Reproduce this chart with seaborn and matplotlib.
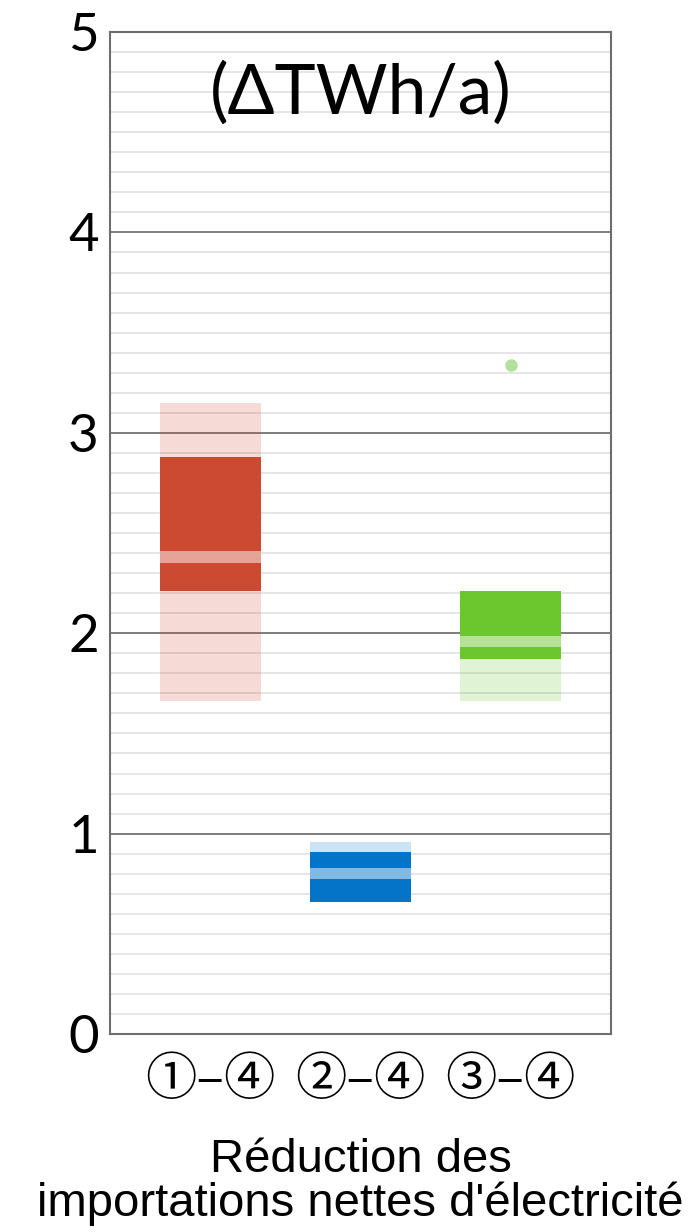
import numpy as np
import pandas as pd
import matplotlib
matplotlib.use("Agg")
import matplotlib.pyplot as plt
import seaborn as sns

# values (TWh/a)
categories = ['①–④', '②–④', '③–④']
range_low = [1.66, 0.66, 1.66]
range_high = [3.15, 0.96, 2.21]
iqr_low = [2.21, 0.66, 1.87]
iqr_high = [2.88, 0.91, 2.21]
medians = [2.38, 0.80, 1.96]
outlier_cat = ['③–④']
outlier_val = [3.34]
colors = ['#CD4A32', '#0474C8', '#6CC62E']

sns.set_theme(style="white")
plt.rcParams['font.family'] = ['Liberation Sans', 'DejaVu Sans']
plt.rcParams['text.color'] = 'black'
plt.rcParams['xtick.color'] = 'black'
plt.rcParams['ytick.color'] = 'black'
plt.rcParams['axes.labelcolor'] = 'black'

fig = plt.figure(figsize=(6.92, 12.32), dpi=100)
ax = fig.add_axes([0.159, 0.1607, 0.724, 0.8133])

bar_w = 0.67
half = 0.028  # half thickness of the median stripe

for i, cat in enumerate(categories):
    c = colors[i]
    # full range, pale
    sns.barplot(x=[cat], y=[range_high[i] - range_low[i]], bottom=range_low[i],
                order=categories, color=c, alpha=0.2, width=bar_w,
                saturation=1, linewidth=0, ax=ax, zorder=2)
    # interquartile block, solid
    sns.barplot(x=[cat], y=[iqr_high[i] - iqr_low[i]], bottom=iqr_low[i],
                order=categories, color=c, width=bar_w,
                saturation=1, linewidth=0, ax=ax, zorder=3)
    # median stripe
    sns.barplot(x=[cat], y=[2 * half], bottom=medians[i] - half,
                order=categories, color='white', alpha=0.5, width=bar_w,
                saturation=1, linewidth=0, ax=ax, zorder=4)

sns.stripplot(x=outlier_cat, y=outlier_val, order=categories, jitter=False,
              color='#B3E09A', size=9, linewidth=0, ax=ax, zorder=5)

ax.set_xlim(-0.667, 2.667)
ax.set_ylim(0, 5)
ax.set_yticks([0, 1, 2, 3, 4, 5])
ax.set_yticks(np.arange(0, 5.01, 0.1), minor=True)
ax.grid(axis='y', which='minor', color='#E3E3E3', linewidth=1.3, zorder=0)
ax.grid(axis='y', which='major', color='#5A5A5A', linewidth=1.1, zorder=1)
ax.set_axisbelow(True)
for s in ax.spines.values():
    s.set_color('#6E6E6E')
    s.set_linewidth(1.5)

ax.tick_params(axis='y', which='both', length=0, pad=8, labelsize=38)
ax.tick_params(axis='x', length=0, pad=14)
for lab in ax.get_yticklabels():
    lab.set_family(['Lato', 'DejaVu Sans'])
for lab in ax.get_xticklabels():
    lab.set_family(['Noto Sans CJK JP', 'DejaVu Sans'])
    lab.set_fontsize(37)

ax.set_ylabel('')
ax.set_xlabel("Réduction des\nimportations nettes d'électricité", fontsize=34,
              labelpad=22, linespacing=1.0)

ax.text(0.5, 0.939, '(ΔTWh/a)', transform=ax.transAxes, ha='center', va='center',
        fontsize=50, family=['Lato', 'DejaVu Sans'])

fig.savefig('out.png', dpi=100)
